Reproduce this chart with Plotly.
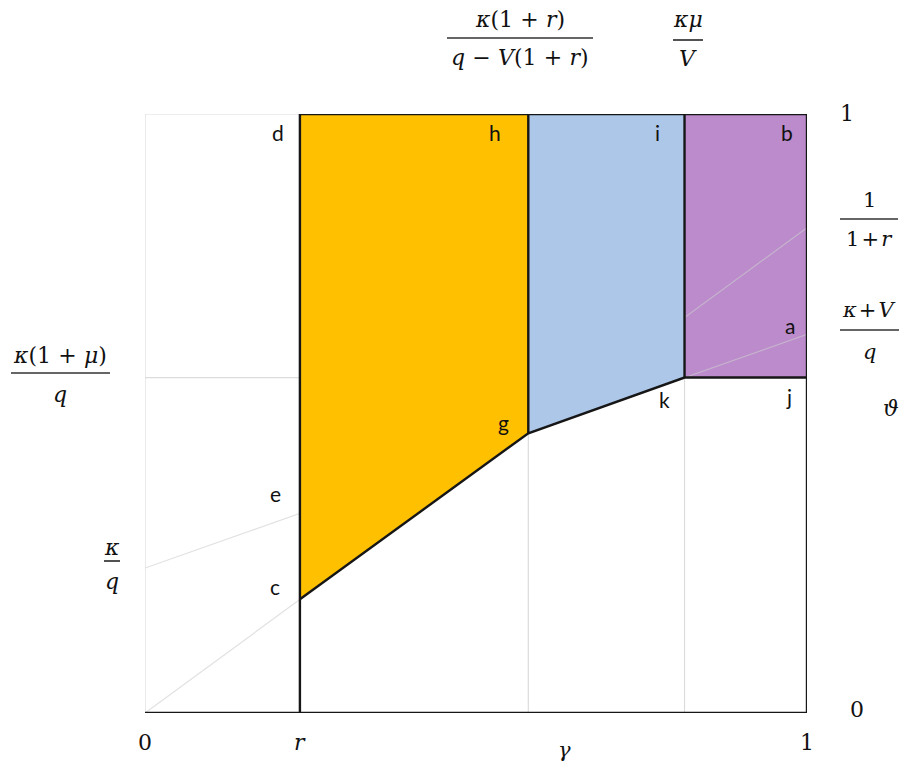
import plotly.graph_objects as go

# Values (gamma on x, theta on y)
R = 0.234            # r on the gamma axis
GAMMA_G = 0.579      # kappa(1+r) / (q - V(1+r))
GAMMA_K = 0.815      # kappa*mu / V
THETA_C = 0.19
THETA_G = 0.467
THETA_K = 0.56       # kappa(1+mu) / q
KAPPA_Q = 0.242      # kappa / q
KAPPA_V_Q = 0.632    # (kappa + V) / q
INV_1PR = 0.81       # 1 / (1 + r)

# shaded regions
orange_gamma = [R, R, GAMMA_G, GAMMA_G]
orange_theta = [THETA_C, 1, 1, THETA_G]
blue_gamma = [GAMMA_G, GAMMA_G, GAMMA_K, GAMMA_K]
blue_theta = [THETA_G, 1, 1, THETA_K]
purple_gamma = [GAMMA_K, GAMMA_K, 1, 1]
purple_theta = [THETA_K, 1, 1, THETA_K]

# faint construction lines
ray_gamma = [0, 1]
ray_theta = [0, INV_1PR]
kq_gamma = [0, 1]
kq_theta = [KAPPA_Q, KAPPA_V_Q]

# boundary c - g - k - j
edge_gamma = [R, GAMMA_G, GAMMA_K, 1]
edge_theta = [THETA_C, THETA_G, THETA_K, THETA_K]

bottom_ticks = [0, R, 1]
bottom_text = ["0", "<i>r</i>", "1"]

ORANGE = "#FFC000"
BLUE = "#ADC7E9"
PURPLE = "#BB8BCC"
GRID = "#dcdcdc"
BLACK = "#161616"

# the page body adds an 8px margin on every side, so the figure is made
# 16px smaller and the reference positions (screen pixels) shifted by 8
OFF = 8
W, H = 908 - 2 * OFF, 776 - 2 * OFF
L = 145 - OFF
T = 114 - OFF
RM = W - (807 - OFF)
BM = H - (713 - OFF)
PW = W - L - RM
PH = H - T - BM

MATH = "DejaVu Serif"
SANS = "Lato"


def px(x):
    return (x - OFF - L) / PW


def py(y):
    return (H - BM - (y - OFF)) / PH


fig = go.Figure()


def poly(gx, gy, col):
    fig.add_trace(go.Scatter(x=gx + [gx[0]], y=gy + [gy[0]], fill="toself",
                             fillcolor=col, mode="none", hoverinfo="skip"))


def seg(gx, gy, col, width):
    fig.add_trace(go.Scatter(x=gx, y=gy, mode="lines", hoverinfo="skip",
                             line=dict(color=col, width=width)))


poly(purple_gamma, purple_theta, PURPLE)

for gx, gy in [(ray_gamma, ray_theta), (kq_gamma, kq_theta)]:
    seg(gx, gy, "rgba(205,205,205,0.6)", 1.2)

poly(orange_gamma, orange_theta, ORANGE)
poly(blue_gamma, blue_theta, BLUE)

# light grid lines
grid = [
    ([0, 0], [0, 1]),
    ([0, R], [1, 1]),
    ([0, R], [THETA_K, THETA_K]),
    ([GAMMA_G, GAMMA_G], [0, THETA_G]),
    ([GAMMA_K, GAMMA_K], [0, THETA_K]),
]
for gx, gy in grid:
    seg(gx, gy, GRID, 1.2)

# black outlines
outlines = [
    ([0, 1], [0, 0]),
    ([R, R], [0, 1]),
    ([R, 1], [1, 1]),
    ([1, 1], [0, 1]),
    ([GAMMA_G, GAMMA_G], [THETA_G, 1]),
    ([GAMMA_K, GAMMA_K], [THETA_K, 1]),
    (edge_gamma, edge_theta),
]
for gx, gy in outlines:
    seg(gx, gy, BLACK, 2.4)

annotations = []
shapes = []


def text(x, y, s, font=MATH, size=22):
    annotations.append(dict(x=px(x), y=py(y), xref="paper", yref="paper",
                            text=s, showarrow=False, xanchor="center",
                            yanchor="middle", font=dict(family=font, size=size,
                                                        color="#111111")))


def fraction(cx, num_y, bar_y, den_y, x0, x1, num, den, size=22):
    text(cx, num_y, num, size=size)
    text(cx, den_y, den, size=size)
    shapes.append(dict(type="line", xref="paper", yref="paper",
                       x0=px(x0), x1=px(x1), y0=py(bar_y), y1=py(bar_y),
                       line=dict(color="#333333", width=1.7)))


sp = "\u2004"
tsp = "\u200a"
fraction(520, 20, 38, 58, 447, 593,
         f"<i>κ</i>(1{sp}+{sp}<i>r</i>)",
         f"<i>q</i>{sp}−{sp}<i>V</i>(1{sp}+{sp}<i>r</i>)")
fraction(688, 20, 40, 59, 673, 703, "<i>κμ</i>", "<i>V</i>")
fraction(869, 200, 219, 239, 840, 898, "1", f"1{tsp}+{tsp}<i>r</i>", size=21)
fraction(869, 310, 330, 352, 840, 899, f"<i>κ</i>{tsp}+{tsp}<i>V</i>", "<i>q</i>",
         size=21)
fraction(60, 355, 373, 394, 11, 110, f"<i>κ</i>(1{sp}+{sp}<i>μ</i>)", "<i>q</i>")
fraction(112, 547, 561, 581, 104, 120, "<i>κ</i>", "<i>q</i>")

text(847, 113, "1")
text(857, 709, "0")
text(891, 408, "<i>ϑ</i>")
text(564, 750, "<i>γ</i>", size=21)

for v, s in zip(bottom_ticks, bottom_text):
    annotations.append(dict(x=v, y=py(742), xref="x", yref="paper", text=s,
                            showarrow=False, xanchor="center", yanchor="middle",
                            font=dict(family=MATH, size=22, color="#111111")))

# point labels
point_labels = {
    "d": (278, 132), "h": (495, 132), "i": (657, 132), "b": (787, 132),
    "a": (790, 325), "j": (789, 396), "k": (664, 399), "g": (503, 423),
    "e": (275, 493), "c": (275, 586),
}
for name, (x, y) in point_labels.items():
    text(x, y, name, font=SANS, size=21)

fig.update_layout(
    width=W, height=H,
    margin=dict(l=L, r=RM, t=T, b=BM),
    plot_bgcolor="white", paper_bgcolor="white",
    showlegend=False,
    xaxis=dict(range=[0, 1], visible=False, fixedrange=True),
    yaxis=dict(range=[0, 1], visible=False, fixedrange=True),
    annotations=annotations,
    shapes=shapes,
)

fig.write_html("out.html")
